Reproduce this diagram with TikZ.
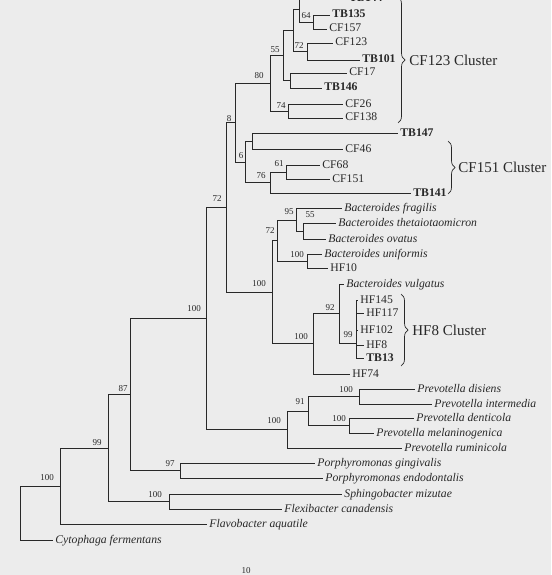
\documentclass[tikz,border=0pt]{standalone}
\usepackage{fontspec}
\setmainfont{Liberation Serif}
\usetikzlibrary{decorations.pathreplacing}
\definecolor{bgray}{RGB}{236,236,236}
\definecolor{ink}{RGB}{40,40,40}

\begin{document}
\begin{tikzpicture}[x=1pt, y=-1pt, line width=0.8pt, color=ink,
    leaf/.style={anchor=west, inner xsep=2pt, inner ysep=0pt, text height=6.5pt, text depth=0.5pt, font=\fontsize{11.7}{12}\selectfont},
    tb/.style={leaf, font=\fontsize{11.7}{12}\selectfont\bfseries},
    sp/.style={leaf, font=\fontsize{11.7}{12}\selectfont\itshape},
    boot/.style={inner sep=0pt, font=\fontsize{9}{10}\selectfont},
    clus/.style={anchor=west, inner sep=0pt, font=\fontsize{15}{16}\selectfont},
    clbrace/.style={decorate, decoration={brace, amplitude=7pt}, line width=0.7pt}]
            \clip (0,0) rectangle (551,575);
            \fill[bgray] (0,0) rectangle (551,575);

            \coordinate (nP1) at (299,9);
            \coordinate (n64) at (313,22);
            \coordinate (n72a) at (307,51.5);
            \coordinate (nA) at (293,30.5);
            \coordinate (nB) at (290,80.5);
            \coordinate (n55a) at (283,55.5);
            \coordinate (n74) at (288,111);
            \coordinate (n80) at (270,83);
            \coordinate (nC) at (252,141);
            \coordinate (n61) at (286,172);
            \coordinate (n76) at (270,182.5);
            \coordinate (n6) at (245,162);
            \coordinate (n8) at (235,122.5);
            \coordinate (n55b) at (303,231);
            \coordinate (n95) at (296,220);
            \coordinate (n100a) at (307,261);
            \coordinate (n72b) at (277,240.5);
            \coordinate (n99a) at (356,343);
            \coordinate (n92) at (339,313);
            \coordinate (n100b) at (313,343.5);
            \coordinate (n100c) at (272,292);
            \coordinate (n72c) at (226,207);
            \coordinate (n100d) at (359,396.5);
            \coordinate (n100e) at (349,425.5);
            \coordinate (n91) at (308,411);
            \coordinate (n100f) at (287,429.5);
            \coordinate (n100g) at (206,318);
            \coordinate (n97) at (180,470.5);
            \coordinate (n87) at (130,394);
            \coordinate (n100h) at (169,501.5);
            \coordinate (n99b) at (108,448);
            \coordinate (n100i) at (60,486);
            \coordinate (nroot) at (20,513);

            \node[tb] (lTB144) at (347,-1) {TB144};
            \node[tb] (lTB135) at (330,15) {TB135};
            \node[leaf] (lCF157) at (327,29) {CF157};
            \node[leaf] (lCF123) at (333,43) {CF123};
            \node[tb] (lTB101) at (360,60) {TB101};
            \node[leaf] (lCF17) at (347,73) {CF17};
            \node[tb] (lTB146) at (322,88) {TB146};
            \node[leaf] (lCF26) at (343,104) {CF26};
            \node[leaf] (lCF138) at (343,118) {CF138};
            \node[tb] (lTB147) at (398,133) {TB147};
            \node[leaf] (lCF46) at (343,149) {CF46};
            \node[leaf] (lCF68) at (320,165) {CF68};
            \node[leaf] (lCF151) at (330,179) {CF151};
            \node[tb] (lTB141) at (411,193) {TB141};
            \node[sp] (lBfra) at (342,208) {Bacteroides fragilis};
            \node[sp] (lBthe) at (336,223) {Bacteroides thetaiotaomicron};
            \node[sp] (lBova) at (326,239) {Bacteroides ovatus};
            \node[sp] (lBuni) at (322,254) {Bacteroides uniformis};
            \node[leaf] (lHF10) at (328,268) {HF10};
            \node[sp] (lBvul) at (344,284) {Bacteroides vulgatus};
            \node[leaf] (lHF145) at (358,300) {HF145};
            \node[leaf] (lHF117) at (364,313) {HF117};
            \node[leaf] (lHF102) at (358,330) {HF102};
            \node[leaf] (lHF8) at (364,345) {HF8};
            \node[tb] (lTB13) at (364,358) {TB13};
            \node[leaf] (lHF74) at (350,374) {HF74};
            \node[sp] (lPdis) at (415,389) {Prevotella disiens};
            \node[sp] (lPint) at (432,404) {Prevotella intermedia};
            \node[sp] (lPden) at (414,418) {Prevotella denticola};
            \node[sp] (lPmel) at (374,433) {Prevotella melaninogenica};
            \node[sp] (lPrum) at (402,448) {Prevotella ruminicola};
            \node[sp] (lPgin) at (315,463) {Porphyromonas gingivalis};
            \node[sp] (lPend) at (323,478) {Porphyromonas endodontalis};
            \node[sp] (lSmiz) at (342,494) {Sphingobacter mizutae};
            \node[sp] (lFcan) at (282,509) {Flexibacter canadensis};
            \node[sp] (lFaqu) at (207,524) {Flavobacter aquatile};
            \node[sp] (lCfer) at (53,540) {Cytophaga fermentans};

            \draw (nP1) |- (lTB144.west);
            \draw (nP1) |- (n64);
            \draw (n64) |- (lTB135.west);
            \draw (n64) |- (lCF157.west);
            \draw (n72a) |- (lCF123.west);
            \draw (n72a) |- (lTB101.west);
            \draw (nA) |- (nP1);
            \draw (nA) |- (n72a);
            \draw (nB) |- (lCF17.west);
            \draw (nB) |- (lTB146.west);
            \draw (n55a) |- (nA);
            \draw (n55a) |- (nB);
            \draw (n74) |- (lCF26.west);
            \draw (n74) |- (lCF138.west);
            \draw (n80) |- (n55a);
            \draw (n80) |- (n74);
            \draw (nC) |- (lTB147.west);
            \draw (nC) |- (lCF46.west);
            \draw (n61) |- (lCF68.west);
            \draw (n61) |- (lCF151.west);
            \draw (n76) |- (n61);
            \draw (n76) |- (lTB141.west);
            \draw (n6) |- (nC);
            \draw (n6) |- (n76);
            \draw (n8) |- (n80);
            \draw (n8) |- (n6);
            \draw (n55b) |- (lBthe.west);
            \draw (n55b) |- (lBova.west);
            \draw (n95) |- (lBfra.west);
            \draw (n95) |- (n55b);
            \draw (n100a) |- (lBuni.west);
            \draw (n100a) |- (lHF10.west);
            \draw (n72b) |- (n95);
            \draw (n72b) |- (n100a);
            \draw (n99a) |- (lHF145.west);
            \draw (n99a) |- (lHF117.west);
            \draw (n99a) |- (lHF102.west);
            \draw (n99a) |- (lHF8.west);
            \draw (n99a) |- (lTB13.west);
            \draw (n92) |- (lBvul.west);
            \draw (n92) |- (n99a);
            \draw (n100b) |- (n92);
            \draw (n100b) |- (lHF74.west);
            \draw (n100c) |- (n72b);
            \draw (n100c) |- (n100b);
            \draw (n72c) |- (n8);
            \draw (n72c) |- (n100c);
            \draw (n100d) |- (lPdis.west);
            \draw (n100d) |- (lPint.west);
            \draw (n100e) |- (lPden.west);
            \draw (n100e) |- (lPmel.west);
            \draw (n91) |- (n100d);
            \draw (n91) |- (n100e);
            \draw (n100f) |- (n91);
            \draw (n100f) |- (lPrum.west);
            \draw (n100g) |- (n72c);
            \draw (n100g) |- (n100f);
            \draw (n97) |- (lPgin.west);
            \draw (n97) |- (lPend.west);
            \draw (n87) |- (n100g);
            \draw (n87) |- (n97);
            \draw (n100h) |- (lSmiz.west);
            \draw (n100h) |- (lFcan.west);
            \draw (n99b) |- (n87);
            \draw (n99b) |- (n100h);
            \draw (n100i) |- (n99b);
            \draw (n100i) |- (lFaqu.west);
            \draw (nroot) |- (n100i);
            \draw (nroot) |- (lCfer.west);

            \node[boot] (b64) at (306,16) {64};
            \node[boot] (b72a) at (299,46) {72};
            \node[boot] (b55a) at (275,50) {55};
            \node[boot] (b80) at (259,76) {80};
            \node[boot] (b74) at (281,106) {74};
            \node[boot] (b8) at (229,119) {8};
            \node[boot] (b6) at (241,156) {6};
            \node[boot] (b61) at (279,164) {61};
            \node[boot] (b76) at (261,176) {76};
            \node[boot] (b72c) at (217,199) {72};
            \node[boot] (b95) at (289,212) {95};
            \node[boot] (b55b) at (310,215) {55};
            \node[boot] (b72b) at (270,231) {72};
            \node[boot] (b100a) at (297,255) {100};
            \node[boot] (b100c) at (259,284) {100};
            \node[boot] (b92) at (330,308) {92};
            \node[boot] (b99a) at (348,335) {99};
            \node[boot] (b100b) at (301,337) {100};
            \node[boot] (b100d) at (346,390) {100};
            \node[boot] (b91) at (300,402) {91};
            \node[boot] (b100e) at (339,419) {100};
            \node[boot] (b100f) at (274,421) {100};
            \node[boot] (b100g) at (194,309) {100};
            \node[boot] (b87) at (123,389) {87};
            \node[boot] (b97) at (170,464) {97};
            \node[boot] (b99b) at (97,443) {99};
            \node[boot] (b100h) at (155,495) {100};
            \node[boot] (b100i) at (47,478) {100};
            \node[boot] (scale) at (246,571) {10};

            \coordinate (cf123top) at (398,-3);
            \coordinate (cf123bot) at (398,123);
            \coordinate (cf151top) at (448,141);
            \coordinate (cf151bot) at (448,194);
            \coordinate (hf8top) at (401,294);
            \coordinate (hf8bot) at (401,366);
            \draw[clbrace] (cf123top) -- (cf123bot);
            \draw[clbrace] (cf151top) -- (cf151bot);
            \draw[clbrace] (hf8top) -- (hf8bot);
            \node[clus] (cCF123) at (409,60) {CF123 Cluster};
            \node[clus] (cCF151) at (458,167) {CF151 Cluster};
            \node[clus] (cHF8) at (412,330) {HF8 Cluster};
        \end{tikzpicture}
\end{document}
